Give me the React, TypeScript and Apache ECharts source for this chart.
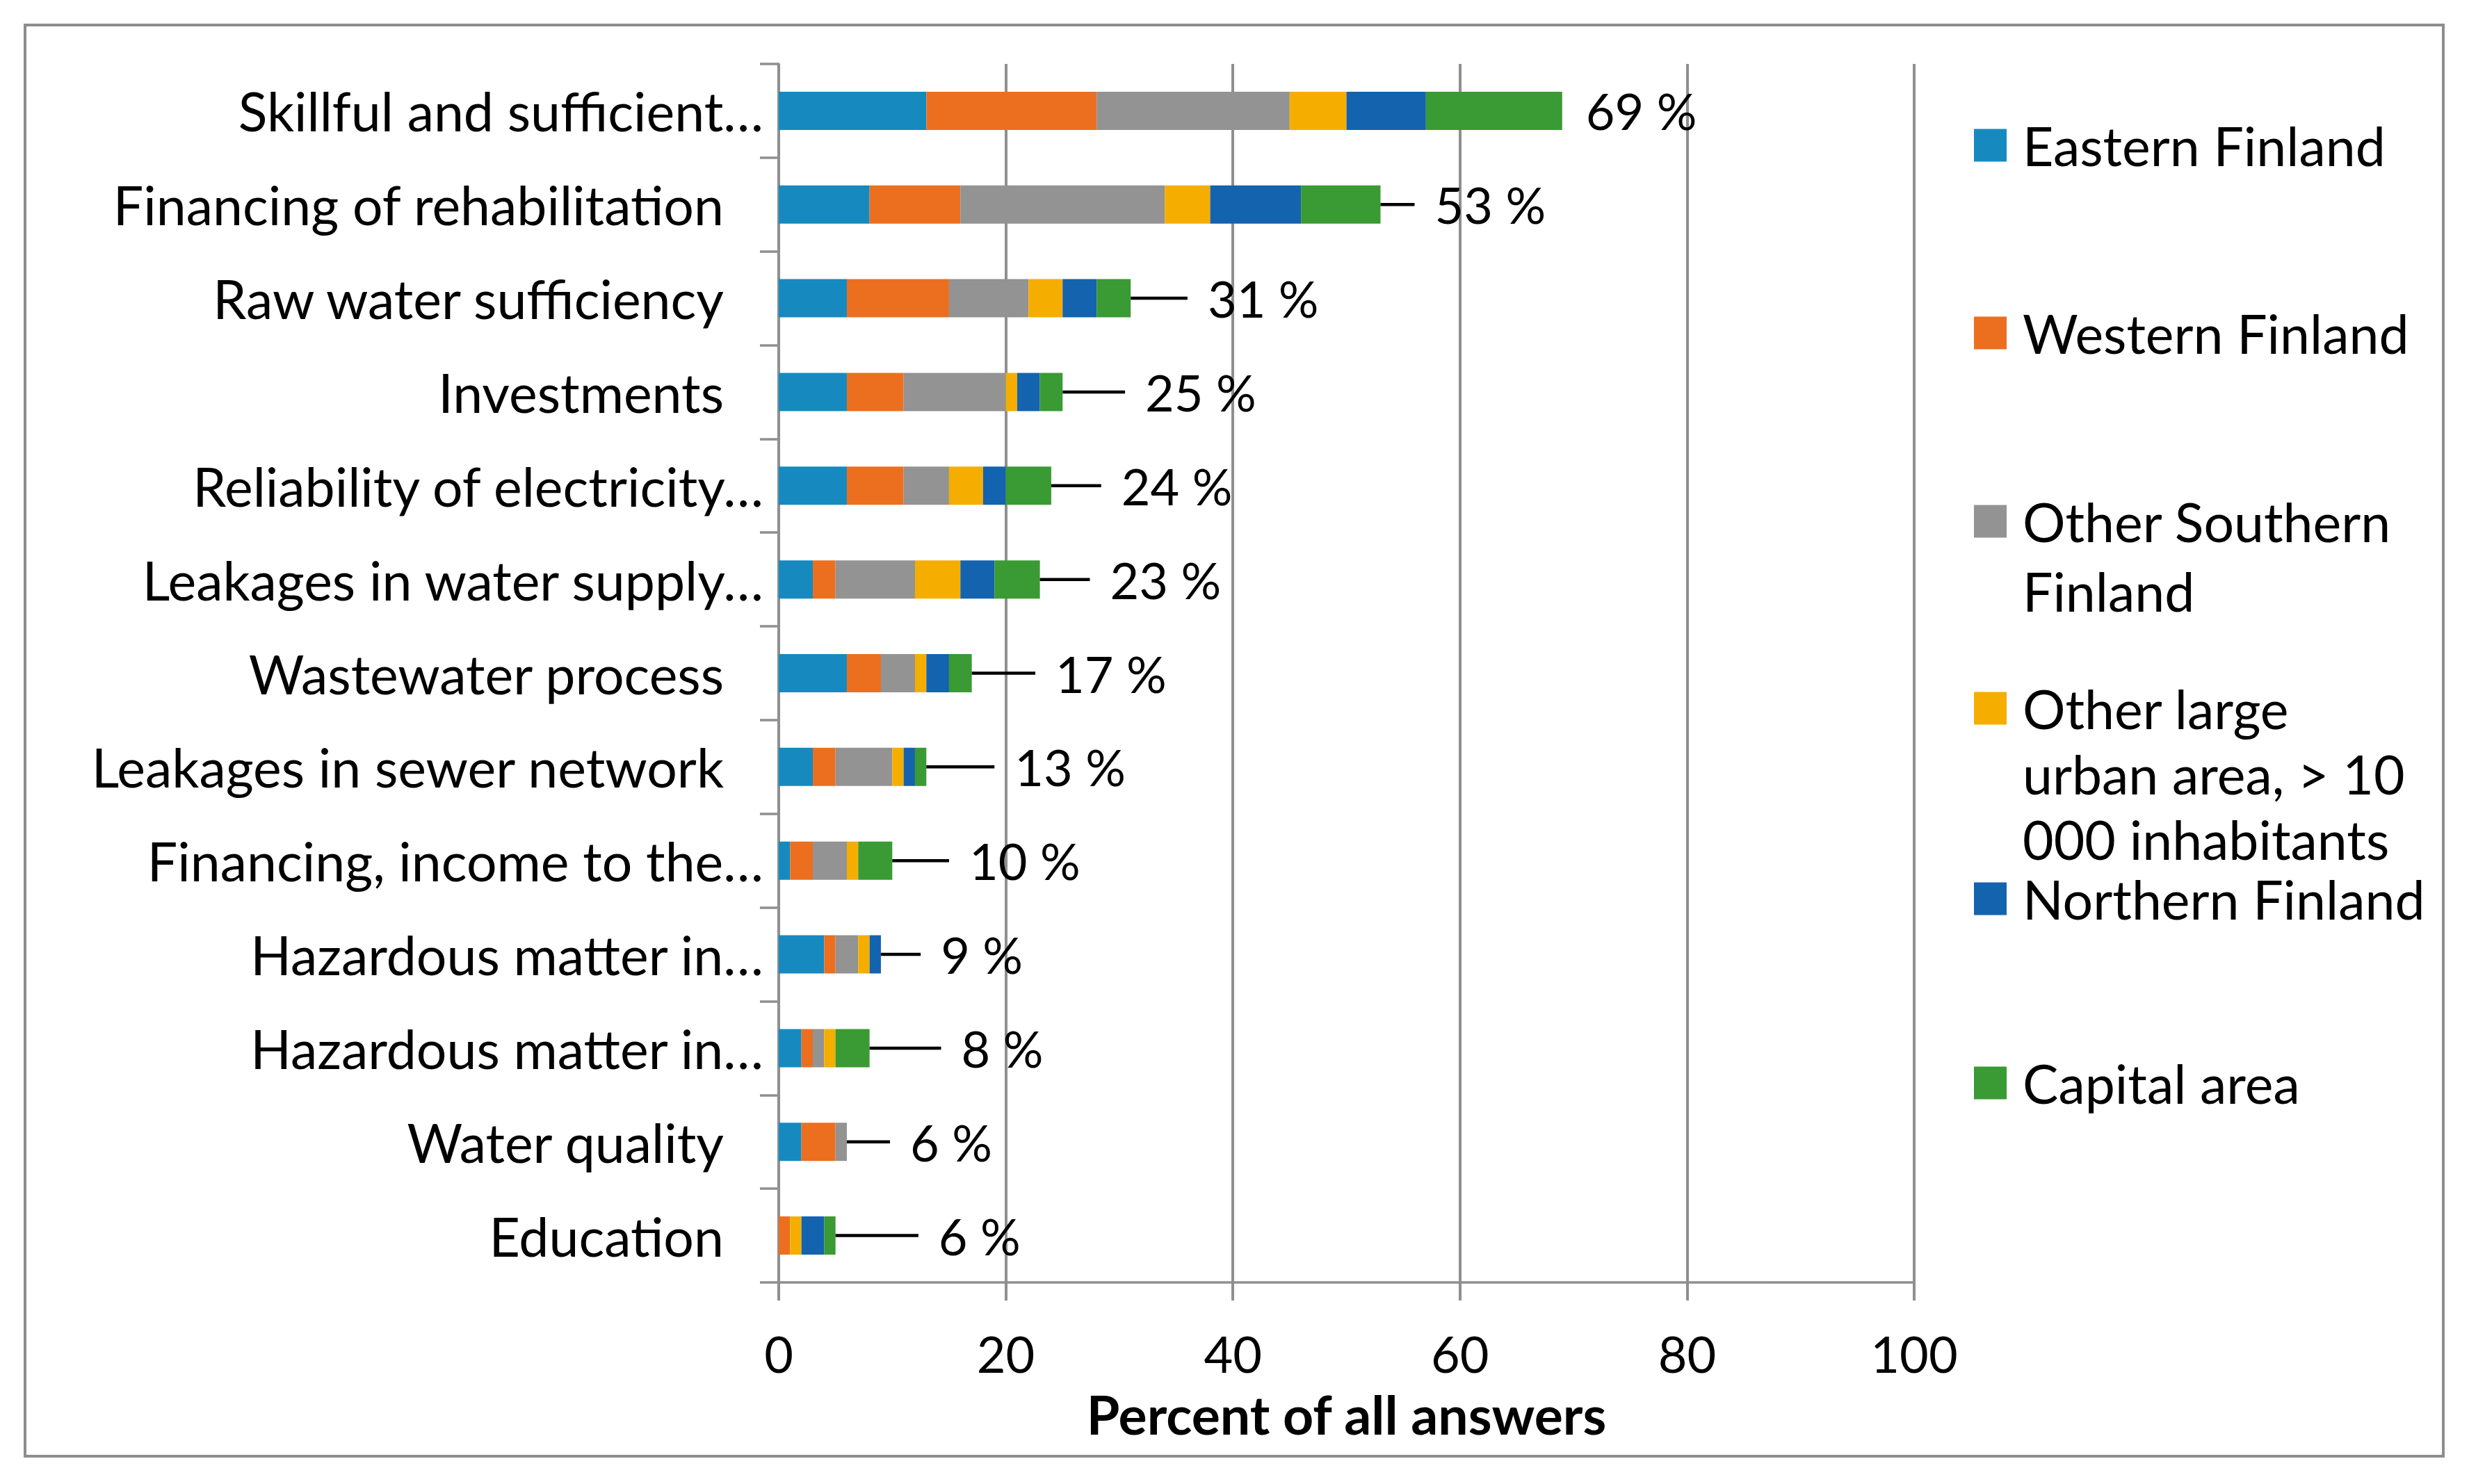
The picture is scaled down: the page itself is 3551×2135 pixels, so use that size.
import React, { useEffect, useRef } from "react";
import * as echarts from "echarts";

const categories = [
  "Skillful and sufficient…",
  "Financing of rehabilitation",
  "Raw water sufficiency",
  "Investments",
  "Reliability of electricity…",
  "Leakages in water supply…",
  "Wastewater process",
  "Leakages in sewer network",
  "Financing, income to the…",
  "Hazardous matter in…",
  "Hazardous matter in…",
  "Water quality",
  "Education",
];

const seriesNames = [
  "Eastern Finland",
  "Western Finland",
  "Other Southern Finland",
  "Other large urban area, > 10 000 inhabitants",
  "Northern Finland",
  "Capital area",
];

const legendLines = [
  "Eastern Finland",
  "Western Finland",
  "Other Southern\nFinland",
  "Other large\nurban area, > 10\n000 inhabitants",
  "Northern Finland",
  "Capital area",
];

const easternFinland = [13, 8, 6, 6, 6, 3, 6, 3, 1, 4, 2, 2, 0];
const westernFinland = [15, 8, 9, 5, 5, 2, 3, 2, 2, 1, 1, 3, 1];
const otherSouthern = [17, 18, 7, 9, 4, 7, 3, 5, 3, 2, 1, 1, 0];
const otherLargeUrban = [5, 4, 3, 1, 3, 4, 1, 1, 1, 1, 1, 0, 1];
const northernFinland = [7, 8, 3, 2, 2, 3, 2, 1, 0, 1, 0, 0, 2];
const capitalArea = [12, 7, 3, 2, 4, 4, 2, 1, 3, 0, 3, 0, 1];

const totalLabels = ["69 %", "53 %", "31 %", "25 %", "24 %", "23 %", "17 %", "13 %", "10 %", "9 %", "8 %", "6 %", "6 %"];
// where each label's leader line ends, in axis units
const labelLineEnd = [69, 56, 36, 30.5, 28.4, 27.4, 22.6, 19, 15, 12.5, 14.3, 9.8, 12.3];

const xTicks = [0, 20, 40, 60, 80, 100];

const colors = ["#168ABF", "#EC6F20", "#939393", "#F5AE00", "#1463AF", "#3A9A33"];
const GRID = "#8f8f8f";
const FONT = "Lato";

export default function App() {
  const ref = useRef<HTMLDivElement>(null);

  useEffect(() => {
    if (!ref.current) return;
    const chart = echarts.init(ref.current, null, { renderer: "svg" });
    const values = [easternFinland, westernFinland, otherSouthern, otherLargeUrban, northernFinland, capitalArea];
    const totals = categories.map((_, i) => values.reduce((s, arr) => s + arr[i], 0));

    const gridTop = 92;
    const gridHeight = 1753;
    const gridLeft = 1120;
    const gridWidth = 1633;

    const legendCenters = [210, 480, 750, 1019, 1294, 1559];
    const ICON = 47;
    const legends = seriesNames.map((name, k) => {
      const n = legendLines[k].split("\n").length;
      const LH = n === 1 ? ICON : n === 2 ? 100 : 94;
      // leading blank lines keep the swatch level with the first text line
      const shown = "\n".repeat(n - 1) + legendLines[k];
      const top = n === 1 ? legendCenters[k] - 39.5 : legendCenters[k] - ((2 * n - 1) * LH) / 2;
      return {
        data: [name],
        orient: "vertical",
        left: 2839,
        top,
        padding: 0,
        itemWidth: ICON,
        itemHeight: ICON,
        icon: "rect",
        selectedMode: false,
        formatter: () => shown,
        textStyle: {
          fontFamily: FONT,
          fontSize: 77,
          color: "#000",
          lineHeight: LH,
          padding: [0, 0, 0, 18],
        },
      };
    });

    const barSeries = seriesNames.map((name, k) => ({
      name,
      type: "bar",
      stack: "total",
      barWidth: 55,
      data: values[k],
      itemStyle: { color: colors[k] },
      emphasis: { disabled: true },
    }));

    const labelSeries = {
      type: "custom",
      name: "totals",
      coordinateSystem: "cartesian2d",
      z: 5,
      silent: true,
      data: totals.map((t, i) => [t, i, labelLineEnd[i]]),
      encode: { x: 0, y: 1 },
      renderItem: (params: any, api: any) => {
        const idx = params.dataIndex;
        const total = api.value(0);
        const end = api.value(2);
        const p0 = api.coord([total, idx]);
        const p1 = api.coord([end, idx]);
        const children: any[] = [];
        if (end > total) {
          children.push({
            type: "line",
            shape: { x1: p0[0], y1: p0[1], x2: p1[0], y2: p1[1] },
            style: { stroke: "#000", lineWidth: 4.5 },
          });
        }
        children.push({
          type: "text",
          x: p1[0] + (end > total ? 29 : 34),
          y: p1[1],
          style: {
            text: totalLabels[idx],
            fill: "#000",
            fontFamily: FONT,
            fontSize: 72,
            align: "left",
            verticalAlign: "middle",
          },
        });
        return { type: "group", children };
      },
    };

    chart.setOption({
      animation: false,
      backgroundColor: "#fff",
      grid: { left: gridLeft, top: gridTop, width: gridWidth, height: gridHeight, containLabel: false },
      legend: legends,
      xAxis: {
        type: "value",
        min: xTicks[0],
        max: xTicks[xTicks.length - 1],
        interval: 20,
        name: "Percent of all answers",
        nameLocation: "middle",
        nameGap: 150,
        nameTextStyle: { fontFamily: FONT, fontSize: 77, fontWeight: "bold", color: "#000" },
        axisLine: { show: true, lineStyle: { color: GRID, width: 3.5 } },
        axisTick: { show: true, length: 26, lineStyle: { color: GRID, width: 4 } },
        splitLine: { show: true, lineStyle: { color: GRID, width: 4 } },
        axisLabel: { margin: 66, fontFamily: FONT, fontSize: 72, color: "#000" },
      },
      yAxis: [
        {
          type: "category",
          inverse: true,
          position: "left",
          data: categories,
          axisLine: { show: true, lineStyle: { color: GRID, width: 3.5 } },
          axisTick: { show: true, length: 27, lineStyle: { color: GRID, width: 3.5 } },
          splitLine: { show: false },
          axisLabel: {
            interval: 0,
            margin: 79,
            fontFamily: FONT,
            fontSize: 77,
            color: "#000",
            formatter: (v: string) => (v.endsWith("…") ? "" : v),
          },
        },
        {
          type: "category",
          inverse: true,
          position: "left",
          data: categories,
          axisLine: { show: false },
          axisTick: { show: false },
          splitLine: { show: false },
          axisLabel: {
            interval: 0,
            margin: 22,
            fontFamily: FONT,
            fontSize: 77,
            color: "#000",
            formatter: (v: string) => (v.endsWith("…") ? v : ""),
          },
        },
      ],
      series: [...barSeries, labelSeries],
      graphic: [
        {
          type: "rect",
          shape: { x: 36, y: 36, width: 3478, height: 2059 },
          style: { fill: "none", stroke: "#8d8d8d", lineWidth: 4 },
          silent: true,
          z: -1,
        },
      ],
    });
    return () => chart.dispose();
  }, []);

  return <div ref={ref} style={{ position: "fixed", left: 0, top: 0, width: 3551, height: 2135 }} />;
}
